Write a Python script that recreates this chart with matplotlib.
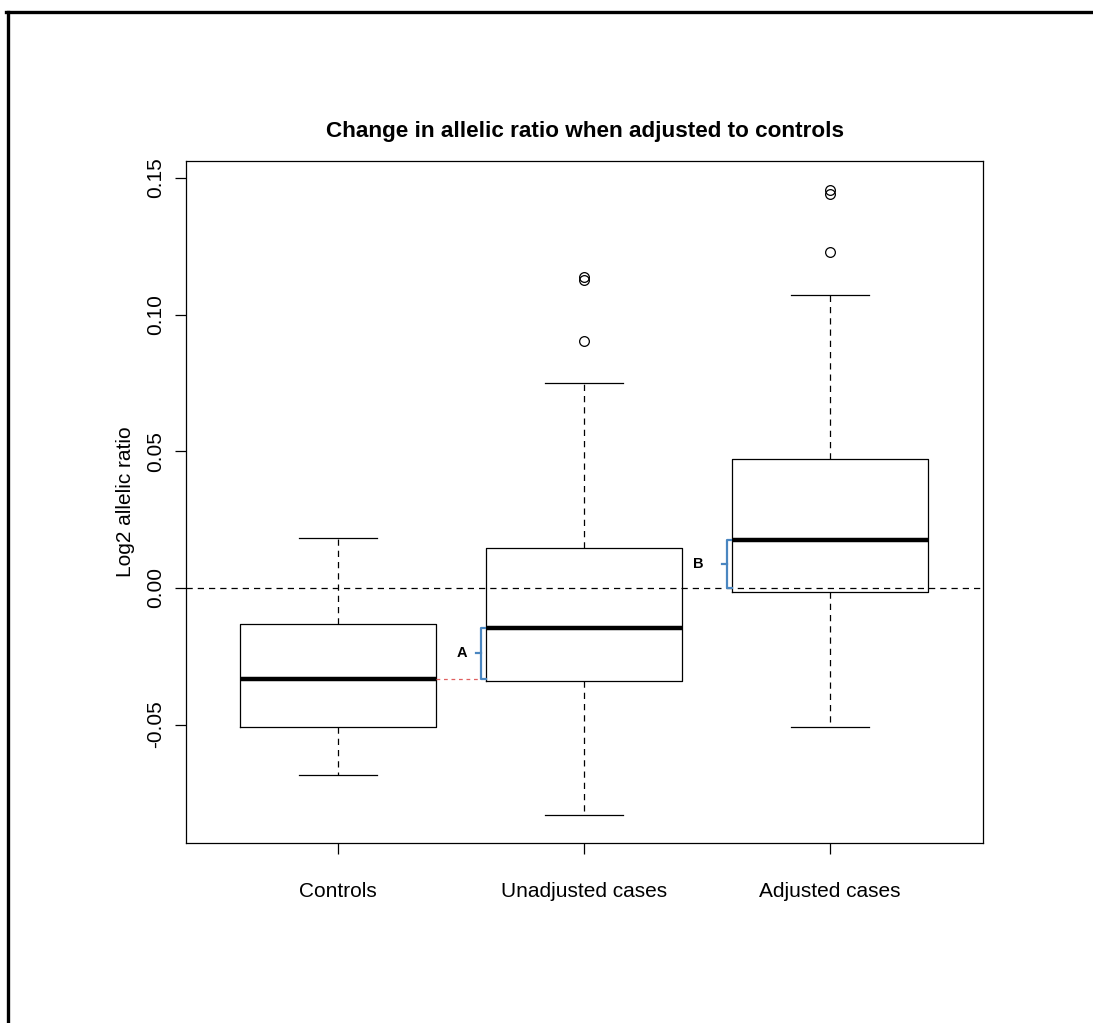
import matplotlib.pyplot as plt
from matplotlib.lines import Line2D

plt.rcParams['font.family'] = ['Liberation Sans', 'DejaVu Sans']

# box statistics
groups = ["Controls", "Unadjusted cases", "Adjusted cases"]
whislo = [-0.0684, -0.0830, -0.0509]
q1 = [-0.0509, -0.0340, -0.0015]
med = [-0.0333, -0.0146, 0.0176]
q3 = [-0.0132, 0.0146, 0.0472]
whishi = [0.0183, 0.0750, 0.1072]
fliers = [[], [0.1138, 0.1126, 0.0904], [0.1457, 0.1442, 0.1230]]

stats = []
for i, name in enumerate(groups):
    stats.append(dict(label=name, whislo=whislo[i], q1=q1[i], med=med[i],
                      q3=q3[i], whishi=whishi[i], fliers=fliers[i]))

fig = plt.figure(figsize=(10.93, 10.23), dpi=100)
ax = fig.add_axes([0.1702, 0.176, 0.7292, 0.6666])

ax.bxp(stats, positions=[1, 2, 3], widths=0.8, capwidths=0.32,
       boxprops=dict(color="black", linewidth=0.9),
       medianprops=dict(color="black", linewidth=3.2),
       whiskerprops=dict(color="black", linewidth=0.9, linestyle=(0, (5, 4))),
       capprops=dict(color="black", linewidth=0.9),
       flierprops=dict(marker="o", markerfacecolor="none", markeredgecolor="black",
                       markersize=7, markeredgewidth=0.9))

ax.axhline(0, color="black", linewidth=0.9, linestyle=(0, (5, 4)), zorder=0)

# annotations A and B
blue = "#4a86c0"
ax.plot([1.4, 1.581], [med[0], med[0]], color="#e06060", linewidth=0.9,
        linestyle=(0, (3, 3)))
for xb, ytop, ybot, lab, xt in [(1.581, med[1], med[0], "A", 1.504),
                                (2.581, med[2], 0.0, "B", 2.463)]:
    ax.plot([xb + 0.022, xb, xb, xb + 0.022], [ytop, ytop, ybot, ybot],
            color=blue, linewidth=1.6)
    ym = (ytop + ybot) / 2
    ax.plot([xb - 0.02, xb], [ym, ym], color=blue, linewidth=1.6)
    ax.text(xt, ym, lab, fontsize=10.5, fontweight="bold", ha="center", va="center")

ax.set_xlim(0.382, 3.622)
ax.set_ylim(-0.0933, 0.1562)
ax.set_yticks([-0.05, 0.0, 0.05, 0.10, 0.15])
ax.set_yticklabels(["-0.05", "0.00", "0.05", "0.10", "0.15"], rotation=90, va="center")
ax.set_xticks([1, 2, 3])
ax.set_xticklabels(groups)
ax.tick_params(axis="x", length=8, width=0.9, pad=20, labelsize=15)
ax.tick_params(axis="y", length=8, width=0.9, pad=7, labelsize=15)
for s in ax.spines.values():
    s.set_linewidth(0.9)

ax.set_ylabel("Log2 allelic ratio", fontsize=15, labelpad=8)
ax.set_title("Change in allelic ratio when adjusted to controls",
             fontsize=16.2, fontweight="bold", pad=17)

# outer frame (top and left only)
fig.add_artist(Line2D([0.0055, 1.0], [0.9883, 0.9883], color="black", linewidth=2.4))
fig.add_artist(Line2D([0.0069, 0.0069], [0.0, 0.9883], color="black", linewidth=2.4))

fig.savefig("out.png", dpi=100)
